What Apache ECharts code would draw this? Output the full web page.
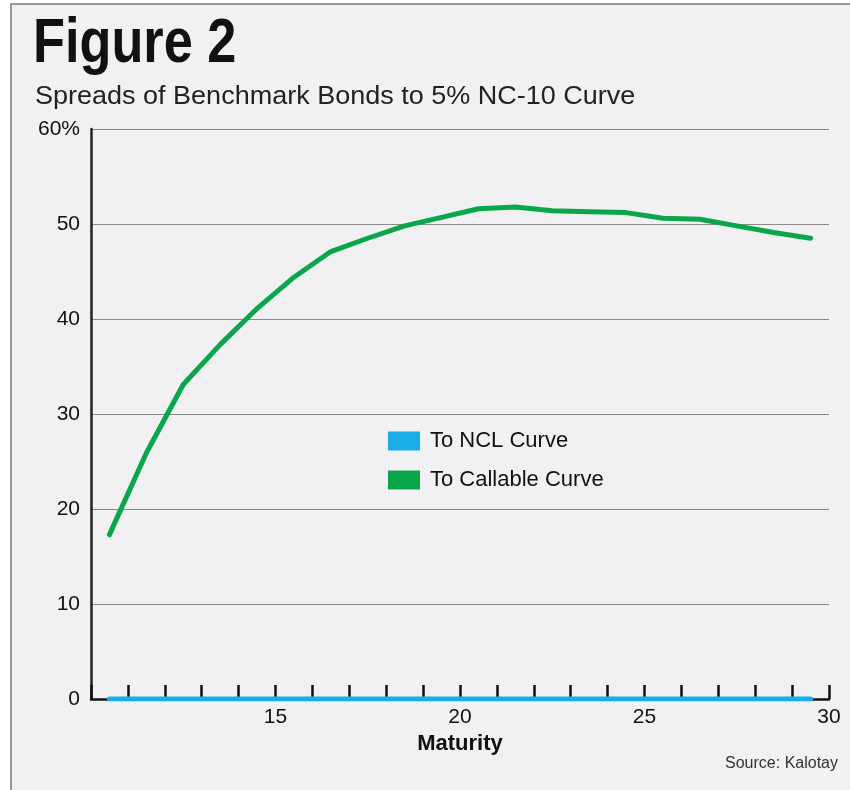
<!DOCTYPE html>
<html>
<head>
<meta charset="utf-8">
<script src="https://cdn.jsdelivr.net/npm/echarts@6/dist/echarts.min.js"></script>
<style>
  html, body { margin: 0; padding: 0; background: #fff; }
  #chart { width: 850px; height: 790px; }
</style>
</head>
<body>
<div id="chart"></div>
<script>
  // maturity in years (mid-year points)
  var maturity = [10.5, 11.5, 12.5, 13.5, 14.5, 15.5, 16.5, 17.5, 18.5, 19.5,
                  20.5, 21.5, 22.5, 23.5, 24.5, 25.5, 26.5, 27.5, 28.5, 29.5];
  var callableSpread = [17.3, 25.9, 33.1, 37.3, 41.1, 44.4, 47.1, 48.5, 49.8, 50.7,
                        51.6, 51.8, 51.4, 51.3, 51.2, 50.6, 50.5, 49.8, 49.1, 48.5];
  var nclMaturity = [10.5, 29.5];
  var nclSpread = [0, 0];
  var xLabels = [15, 20, 25, 30];
  var seriesNames = ['To NCL Curve', 'To Callable Curve'];

  var sans = "'Liberation Sans', Arial, sans-serif";

  function pairs(xs, ys) {
    return xs.map(function (x, i) { return [x, ys[i]]; });
  }

  var myChart = echarts.init(document.getElementById('chart'));
  var option = {
    backgroundColor: '#fff',
    animation: false,
    graphic: [
      {
        type: 'rect', z: -10,
        shape: { x: 11, y: 4, width: 900, height: 900 },
        style: { fill: '#f1f1f3', stroke: '#7a7a7a', lineWidth: 1.5 }
      },
      {
        // condensed look: squeeze the bold title horizontally
        type: 'text', x: 33, y: 45, scaleX: 0.83,
        style: { text: 'Figure 2', fill: '#111', font: 'bold 63px ' + sans, verticalAlign: 'middle' }
      },
      {
        type: 'text', x: 35, y: 97, scaleX: 1.08,
        style: { text: 'Spreads of Benchmark Bonds to 5% NC-10 Curve', fill: '#222',
                 font: '25px ' + sans, verticalAlign: 'middle' }
      },
      {
        type: 'text', right: 12, top: 756,
        style: { text: 'Source: Kalotay', fill: '#333', font: '16px ' + sans }
      }
    ],
    grid: { left: 91, right: 21, top: 129, bottom: 91 },
    legend: {
      orient: 'vertical',
      left: 383, top: 425,
      itemWidth: 32, itemHeight: 19, itemGap: 17,
      icon: 'rect',
      textStyle: { fontFamily: sans, fontSize: 22, color: '#111', padding: [0, 0, 0, 5] },
      data: seriesNames
    },
    xAxis: {
      type: 'value', min: 10, max: 30, interval: 1,
      name: 'Maturity', nameLocation: 'middle', nameGap: 34,
      nameTextStyle: { fontFamily: sans, fontSize: 22, fontWeight: 'bold', color: '#111' },
      axisLine: { show: true, lineStyle: { color: '#111', width: 2.5 } },
      axisTick: { show: true, inside: true, length: 14, lineStyle: { color: '#111', width: 2.5 } },
      axisLabel: {
        fontFamily: sans, fontSize: 21, color: '#111', margin: 8,
        formatter: function (v) { return xLabels.indexOf(v) >= 0 ? String(v) : ''; }
      },
      splitLine: { show: false }
    },
    yAxis: {
      type: 'value', min: 0, max: 60, interval: 10,
      axisLine: { show: true, lineStyle: { color: '#222', width: 2.5 } },
      axisTick: { show: false },
      axisLabel: {
        fontFamily: sans, fontSize: 21, color: '#111', margin: 11,
        formatter: function (v) { return v === 60 ? '60%' : String(v); }
      },
      splitLine: { show: true, lineStyle: { color: '#8a8a8a', width: 1.2 } }
    },
    series: [
      {
        name: seriesNames[0], type: 'line', data: pairs(nclMaturity, nclSpread),
        symbol: 'none', color: '#19aee8',
        lineStyle: { width: 5, color: '#19aee8', cap: 'round' }, z: 5
      },
      {
        name: seriesNames[1], type: 'line', data: pairs(maturity, callableSpread),
        symbol: 'none', color: '#0aa64a',
        lineStyle: { width: 5, color: '#0aa64a', cap: 'round', join: 'round' }, z: 4
      }
    ]
  };
  myChart.setOption(option);
</script>
</body>
</html>
